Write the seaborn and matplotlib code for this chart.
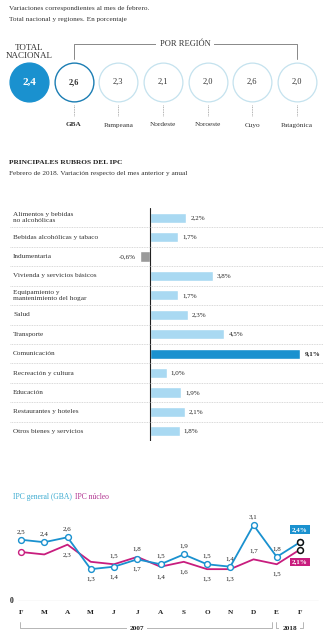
import matplotlib
matplotlib.use("Agg")
import matplotlib.pyplot as plt
import matplotlib.transforms as mtrans
import seaborn as sns
import pandas as pd
import numpy as np

# ---------------- data ----------------
total_label = "TOTAL\nNACIONAL"
total_value = 2.4
region_names = ["GBA", "Pampeana", "Nordeste", "Noroeste", "Cuyo", "Patagónica"]
region_values = [2.6, 2.3, 2.1, 2.0, 2.6, 2.0]

rubros = ["Alimentos y bebidas\nno alcohólicas", "Bebidas alcohólicas y tabaco", "Indumentaria",
          "Vivienda y servicios básicos", "Equipamiento y\nmantenimiento del hogar", "Salud",
          "Transporte", "Comunicación", "Recreación y cultura", "Educación",
          "Restaurantes y hoteles", "Otros bienes y servicios"]
rubro_values = [2.2, 1.7, -0.6, 3.8, 1.7, 2.3, 4.5, 9.1, 1.0, 1.9, 2.1, 1.8]

months = ["F", "M", "A", "M", "J", "J", "A", "S", "O", "N", "D", "E", "F"]
ipc_general = [2.5, 2.4, 2.6, 1.3, 1.4, 1.7, 1.5, 1.9, 1.5, 1.4, 3.1, 1.8, 2.4]
ipc_nucleo = [2.0, 1.9, 2.3, 1.6, 1.5, 1.8, 1.4, 1.6, 1.3, 1.3, 1.7, 1.5, 2.1]
# label placement: 1 above, -1 below, 0 none
gen_lab = [1, 1, 1, -1, -1, -1, 1, 1, 1, 1, 1, 1, 0]
nuc_lab = [0, 0, -1, 0, 1, 1, -1, -1, -1, -1, 1, -1, 0]
years = ["2007", "2018"]

# ---------------- style ----------------
sns.set_theme(style="white")
plt.rcParams["font.family"] = ["Liberation Serif", "DejaVu Serif"]
TXT = "#333333"
BLUE = "#1a91cf"
LBLUE = "#a9d9f2"
MAG = "#c81d7e"
W, H = 323, 640

fig = plt.figure(figsize=(W / 100, H / 100), dpi=100)
fig.patch.set_facecolor("white")


def fx(x):
    return x / W


def fy(y):
    return 1 - y / H


fig.text(fx(9), fy(8), "Variaciones correspondientes al mes de febrero.", fontsize=5.2, color=TXT, va="center")
fig.text(fx(9), fy(19), "Total nacional y regiones. En porcentaje", fontsize=5.2, color=TXT, va="center")

# ---------------- circles ----------------
ax0 = fig.add_axes([0, fy(140), 1, 140 / H])
sp = 44.67
ax0.set_xlim(-29 / sp, (W - 29) / sp)
ax0.set_ylim(140, 0)
ax0.axis("off")
circ = pd.DataFrame({"pos": np.arange(7), "y": 82.0,
                     "val": [total_value] + region_values,
                     "kind": ["total", "gba"] + ["reg"] * 5})
faces = {"total": BLUE, "gba": "white", "reg": "white"}
edges = {"total": BLUE, "gba": "#1b7db3", "reg": "#c4e2ee"}
for k in ["reg", "gba", "total"]:
    sub = circ[circ.kind == k]
    sns.scatterplot(data=sub, x="pos", y="y", ax=ax0, s=780, color=faces[k],
                    edgecolor=edges[k], linewidth=1.0 if k != "reg" else 0.9, legend=False, zorder=3)
for _, r in circ.iterrows():
    s = f"{r.val:.1f}".replace(".", ",")
    if r.kind == "total":
        ax0.text(r.pos, r.y, s, ha="center", va="center", fontsize=8, color="white", fontweight="bold", zorder=4)
    else:
        ax0.text(r.pos, r.y, s, ha="center", va="center", fontsize=6,
                 color=TXT, fontweight="bold" if r.kind == "gba" else "normal", zorder=4)
ax0.text(0, 52, total_label, ha="center", va="center", fontsize=6.5, color=TXT, linespacing=1.1)
for i, name in enumerate(region_names, start=1):
    ax0.plot([i, i], [105, 116], color="#999999", lw=0.6, ls=(0, (1, 1)))
    ax0.text(i, 125, name, ha="center", va="center", fontsize=5.2, color=TXT,
             fontweight="bold" if i == 1 else "normal")
ax0.plot([1, 1, 6, 6], [59, 44, 44, 59], color="#888888", lw=0.7, solid_joinstyle="round")
ax0.text(3.49, 44, "POR REGIÓN", ha="center", va="center", fontsize=6, color=TXT,
         bbox=dict(facecolor="white", edgecolor="none", pad=2.5))

# ---------------- bars ----------------
fig.text(fx(9), fy(162), "PRINCIPALES RUBROS DEL IPC", fontsize=5.3, color="#222222", fontweight="bold", va="center")
fig.text(fx(9), fy(173), "Febrero de 2018. Variación respecto del mes anterior y anual", fontsize=5.2, color=TXT, va="center")

ax1 = fig.add_axes([0, fy(441), 1, 233 / H])
ppu = 16.5
x0 = 150
df = pd.DataFrame({"rubro": rubros, "valor": rubro_values})
pal = {r: (BLUE if r == "Comunicación" else ("#9a9a9a" if v < 0 else LBLUE)) for r, v in zip(rubros, rubro_values)}
sns.barplot(data=df, x="valor", y="rubro", hue="rubro", palette=pal, legend=False,
            orient="h", width=0.52, ax=ax1, saturation=1)
ax1.set_xlim(-x0 / ppu, (W - x0) / ppu)
ax1.set_ylim(len(rubros) - 0.5, -0.5)
ax1.axis("off")
ax1.axvline(0, color="#222222", lw=0.8)
for i in range(len(rubros) - 1):
    ax1.axhline(i + 0.5, xmin=10 / W, xmax=1, color="#cccccc", lw=0.6, ls=(0, (1, 1)))
for i, (r, v) in enumerate(zip(rubros, rubro_values)):
    ax1.text((13 - x0) / ppu, i, r, ha="left", va="center", fontsize=5.2, color=TXT, linespacing=1.15)
    s = f"{v:.1f}".replace(".", ",") + "%"
    if v >= 0:
        ax1.text(v + 0.25, i, s, ha="left", va="center", fontsize=5,
                 color="#222222", fontweight="bold" if r == "Comunicación" else "normal")
    else:
        ax1.text(v - 0.25, i, s, ha="right", va="center", fontsize=5, color="#222222")

# ---------------- line chart ----------------
fig.text(fx(13), fy(497), "IPC general (GBA)", fontsize=5.5, color="#3aaad0", va="center")
fig.text(fx(75), fy(497), "IPC núcleo", fontsize=5.5, color="#b0308f", va="center")

ax2 = fig.add_axes([0, fy(601), 1, 86 / H])
mp = 23.25
ax2.set_xlim(-21 / mp, (W - 21) / mp)
ax2.set_ylim(0, 86 / 24.5)
ax2.axis("off")
pos = np.arange(len(months))
ldf = pd.DataFrame({"pos": pos, "general": ipc_general, "nucleo": ipc_nucleo})
sns.lineplot(data=ldf, x="pos", y="nucleo", ax=ax2, color=MAG, lw=1.3, marker="o", markevery=[0],
             markersize=4.2, markerfacecolor="white", markeredgecolor=MAG, markeredgewidth=1.0, zorder=3)
sns.lineplot(data=ldf, x="pos", y="general", ax=ax2, color=BLUE, lw=1.3, marker="o",
             markersize=4.2, markerfacecolor="white", markeredgecolor=BLUE, markeredgewidth=1.0, zorder=4)
last = ldf.iloc[[-1]]
for col in ["nucleo", "general"]:
    sns.scatterplot(data=last, x="pos", y=col, ax=ax2, s=18, color="white", edgecolor="#111111",
                    linewidth=1.1, zorder=6, legend=False)
ax2.axhline(0, xmin=18 / W, xmax=318 / W, color="#999999", lw=0.8)
ax2.text(-9 / mp, 0, "0", ha="center", va="center", fontsize=5.5, fontweight="bold", color="#222222")


def lab(series, flags):
    for i, (v, f) in enumerate(zip(series, flags)):
        if f == 0:
            continue
        off = 6 if f > 0 else -7
        ax2.annotate(f"{v:.1f}".replace(".", ","), (i, v), xytext=(0, off), textcoords="offset points",
                     ha="center", va="center", fontsize=5, color="#222222")


lab(ipc_general, gen_lab)
lab(ipc_nucleo, nuc_lab)
ax2.annotate(f"{ipc_general[-1]:.1f}".replace(".", ",") + "%", (pos[-1], ipc_general[-1]), xytext=(0, 9),
             textcoords="offset points", ha="center", va="center", fontsize=5, color="white",
             fontweight="bold", bbox=dict(boxstyle="square,pad=0.25", fc=BLUE, ec="none"))
ax2.annotate(f"{ipc_nucleo[-1]:.1f}".replace(".", ",") + "%", (pos[-1], ipc_nucleo[-1]), xytext=(0, -9),
             textcoords="offset points", ha="center", va="center", fontsize=5, color="white",
             fontweight="bold", bbox=dict(boxstyle="square,pad=0.25", fc=MAG, ec="none"))

trans = mtrans.blended_transform_factory(ax2.transData, ax2.transAxes)
for i, m in enumerate(months):
    ax2.text(i, -11 / 86, m, transform=trans, ha="center", va="center", fontsize=5.2,
             color="#222222", fontweight="bold", clip_on=False)
ybr = -27 / 86
ytk = -21 / 86
for (a, b), yr, c in zip([(-0.05, 10.8), (10.95, 12.15)], years, [5.0, 11.55]):
    ax2.plot([a, a, b, b], [ytk, ybr, ybr, ytk], transform=trans, color="#aaaaaa", lw=0.6, clip_on=False)
    ax2.text(c, ybr, yr, transform=trans, ha="center", va="center", fontsize=5.2, color="#222222",
             fontweight="bold", clip_on=False, bbox=dict(facecolor="white", edgecolor="none", pad=2))

fig.savefig("out.png", dpi=100, facecolor="white")
